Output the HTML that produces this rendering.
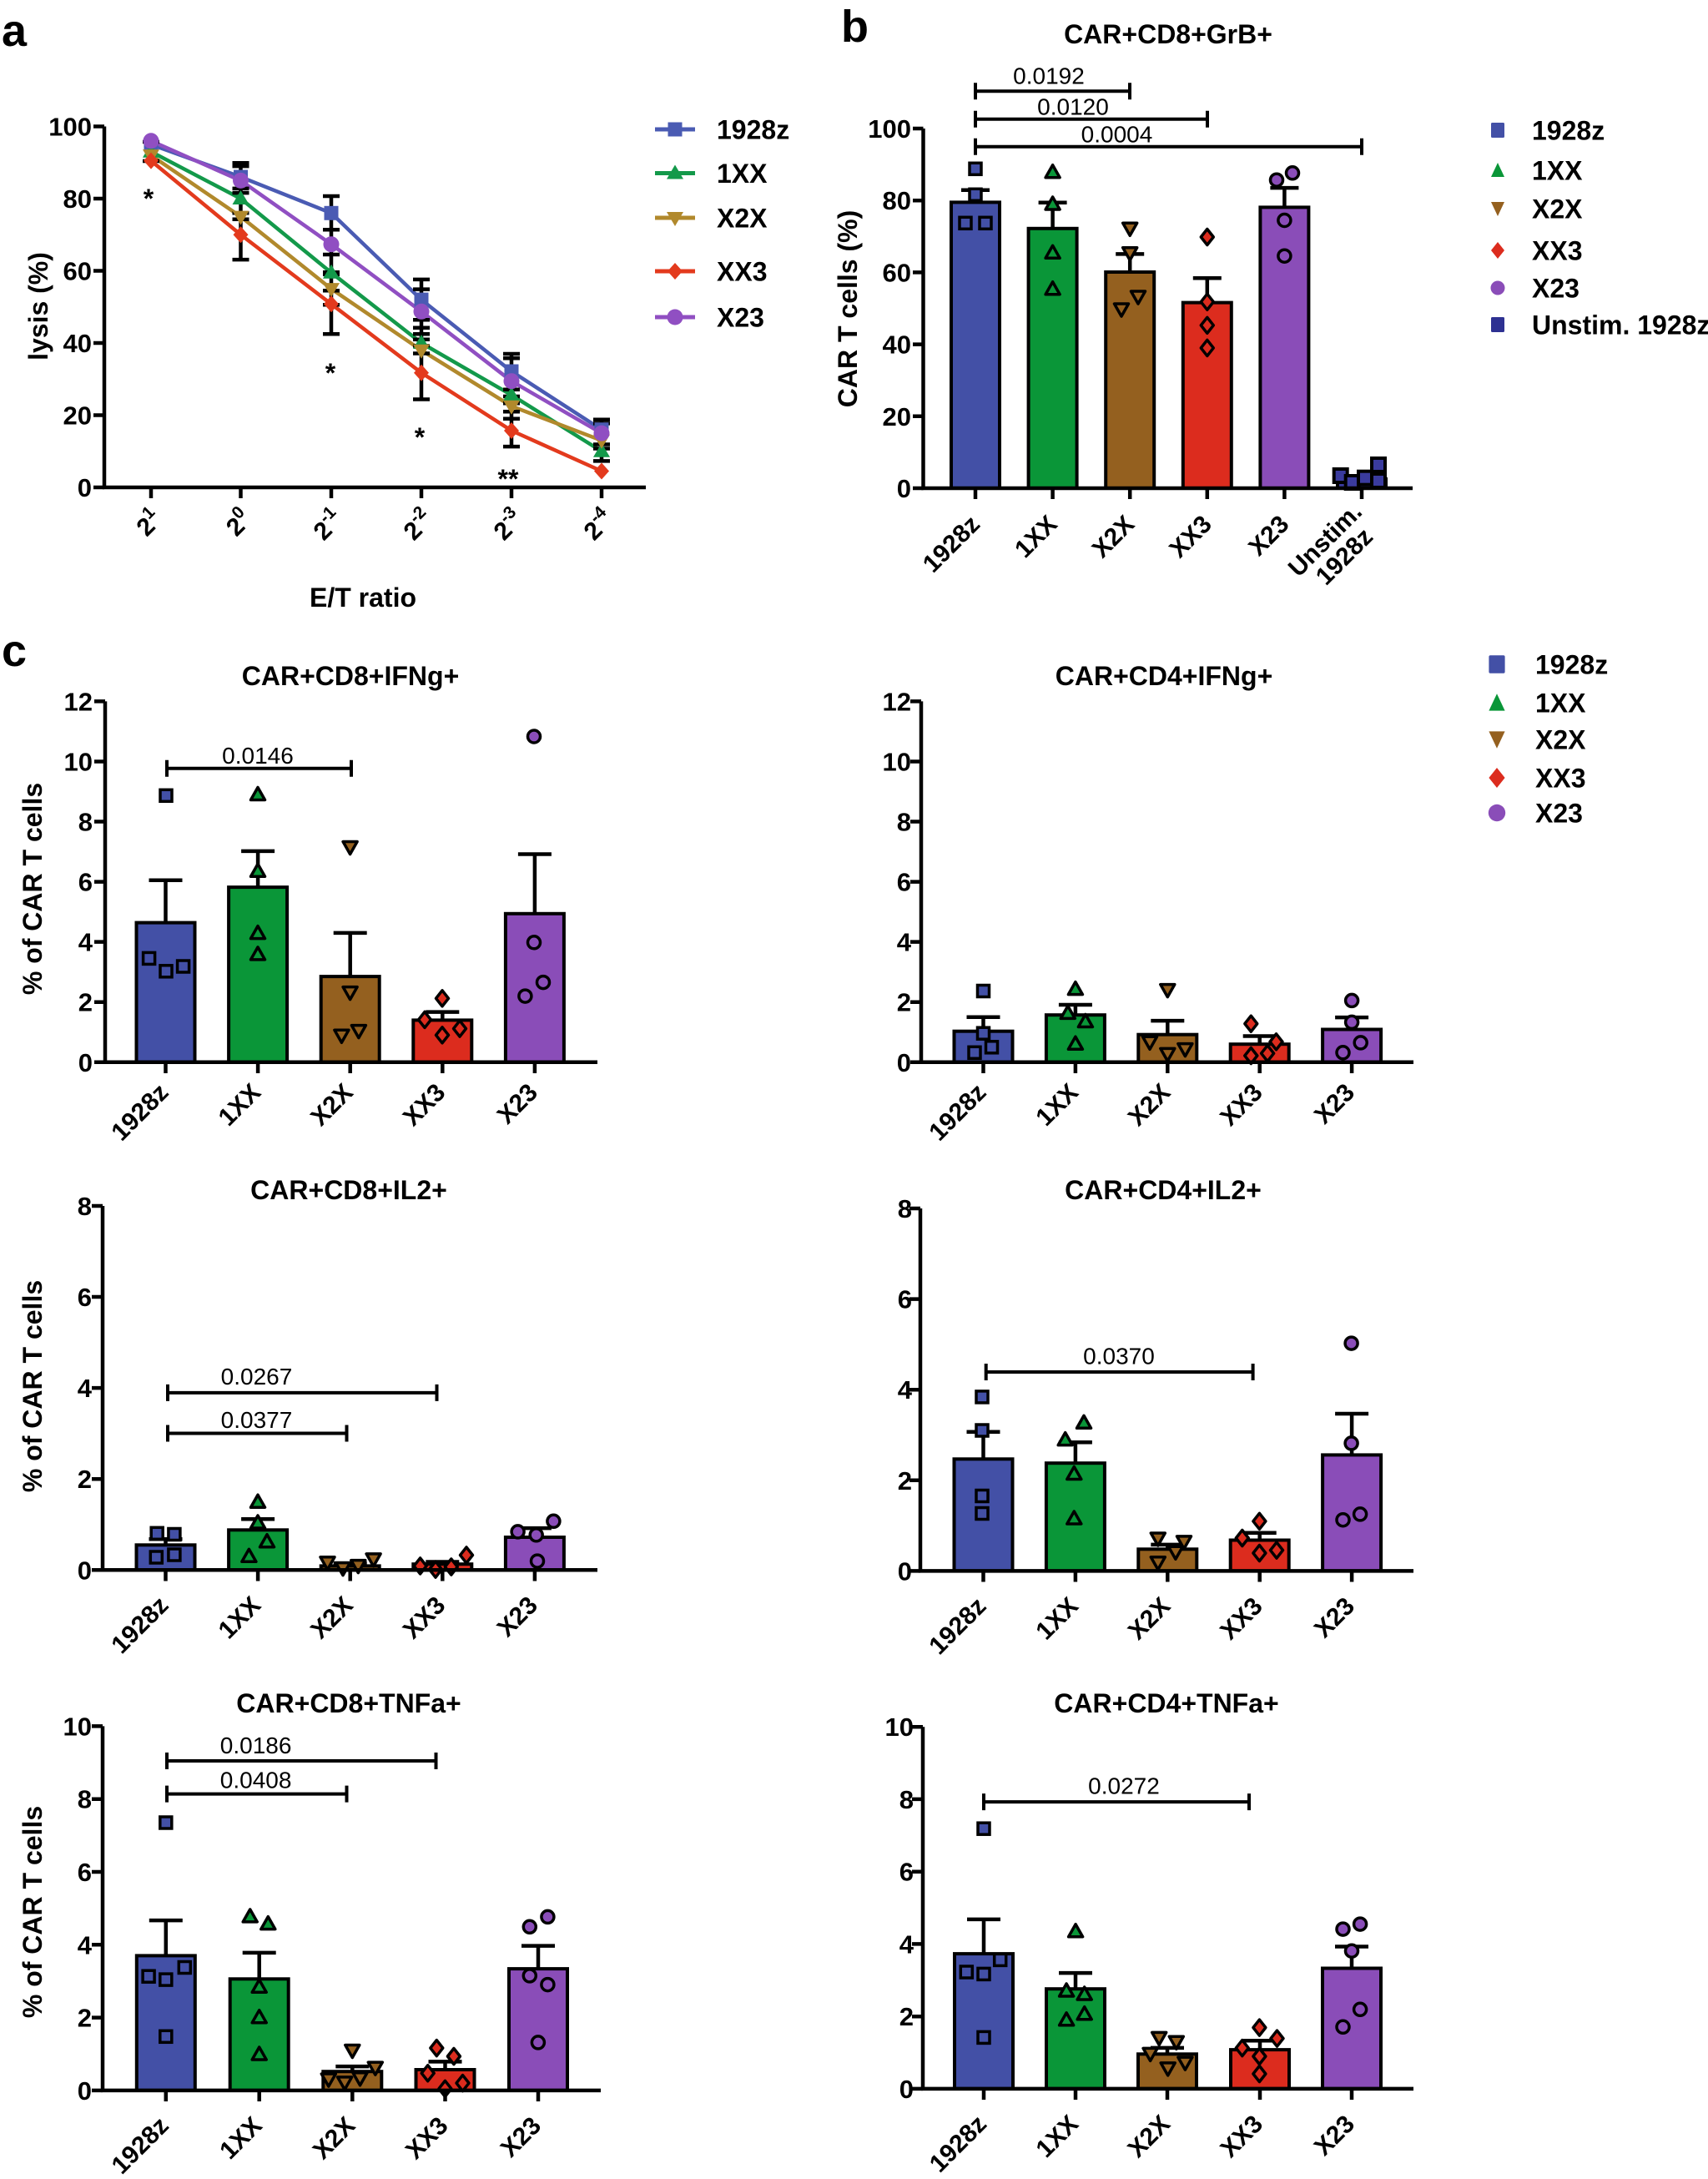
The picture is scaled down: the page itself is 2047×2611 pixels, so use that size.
<!DOCTYPE html>
<html><head><meta charset="utf-8">
<style>
html,body{margin:0;padding:0;background:#fff}
svg{display:block}
text{font-family:"Liberation Sans",Arial,sans-serif;font-weight:bold;fill:#000}
.tk{font-size:31px}
.xl{font-size:30px}
.ttl{font-size:32px}
.pv,.pv text{font-size:28px;font-weight:normal}
.lg{font-size:32px}
.pl{font-size:54px}
.ax{fill:none;stroke:#000;stroke-width:4.5}
.br{fill:none;stroke:#000;stroke-width:4}
.eb{fill:none;stroke:#000;stroke-width:4.5}
.bar{stroke:#000;stroke-width:4}
</style></head><body>
<svg width="2047" height="2611" viewBox="0 0 2047 2611" xmlns="http://www.w3.org/2000/svg">
<defs>
<rect id="pS" x="-7" y="-7" width="14" height="14" stroke="#000" stroke-width="3.5"/>
<path id="pT" d="M0,-9 L8.5,6 L-8.5,6 Z" stroke="#000" stroke-width="3.5" stroke-linejoin="round"/>
<path id="pV" d="M-8.5,-6 L8.5,-6 L0,9 Z" stroke="#000" stroke-width="3.5" stroke-linejoin="round"/>
<path id="pD" d="M0,-9.5 L7.5,0 L0,9.5 L-7.5,0 Z" stroke="#000" stroke-width="3.5" stroke-linejoin="round"/>
<circle id="pC" r="7.5" stroke="#000" stroke-width="3.5"/>
<rect id="uS" x="-8" y="-8" width="16" height="16" stroke="#000" stroke-width="4"/>
<rect id="aS" x="-8.5" y="-8.5" width="17" height="17"/>
<path id="aT" d="M0,-10 L10,7 L-10,7 Z"/>
<path id="aV" d="M-10,-7 L10,-7 L0,10 Z"/>
<path id="aD" d="M0,-10 L9,0 L0,10 L-9,0 Z"/>
<circle id="aC" r="9.5"/>
<rect id="lS" x="-8" y="-9" width="16" height="18" rx="1.5"/>
<path id="lT" d="M0,-9 L8,8 L-8,8 Z"/>
<path id="lV" d="M-8,-8 L8,-8 L0,9 Z"/>
<path id="lD" d="M0,-10 L8,0 L0,10 L-8,0 Z"/>
<circle id="lC" r="8.5"/>
</defs>

<!-- ============ PANEL A ============ -->
<text class="pl" x="2" y="55">a</text>
<path class="ax" d="M125,151.5 V584 H774"/>
<path class="ax" d="M112,584H125M112,497.5H125M112,411H125M112,324.5H125M112,238H125M112,151.5H125M181,584V597M288.5,584V597M397,584V597M505,584V597M613,584V597M721,584V597"/>
<g class="tk" text-anchor="end">
<text x="110" y="595">0</text><text x="110" y="508.5">20</text><text x="110" y="422">40</text>
<text x="110" y="335.5">60</text><text x="110" y="249">80</text><text x="110" y="162.5">100</text>
</g>
<g class="xl" text-anchor="end">
<text transform="translate(196,624) rotate(-45)">2<tspan font-size="21" dy="-13">1</tspan></text>
<text transform="translate(303.5,624) rotate(-45)">2<tspan font-size="21" dy="-13">0</tspan></text>
<text transform="translate(413,624) rotate(-45)">2<tspan font-size="21" dy="-13">-1</tspan></text>
<text transform="translate(521,624) rotate(-45)">2<tspan font-size="21" dy="-13">-2</tspan></text>
<text transform="translate(629,624) rotate(-45)">2<tspan font-size="21" dy="-13">-3</tspan></text>
<text transform="translate(737,624) rotate(-45)">2<tspan font-size="21" dy="-13">-4</tspan></text>
</g>
<text class="ttl" transform="translate(57,367) rotate(-90)" text-anchor="middle">lysis (%)</text>
<text class="ttl" x="435" y="727" text-anchor="middle">E/T ratio</text>
<g fill="none" stroke-width="4.5" stroke-linejoin="round">
<polyline stroke="#4a5bb3" points="181,173.1 288.5,212.05 397,255.3 505,359.1 613,445 721,514.8"/>
<polyline stroke="#13994a" points="181,181.8 288.5,238 397,326.7 505,411 613,473.3 721,540.75"/>
<polyline stroke="#b1892c" points="181,186.1 288.5,259.6 397,346.1 505,419.7 613,486.7 721,527.8"/>
<polyline stroke="#e33a1d" points="181,192.6 288.5,281.25 397,364.3 505,446.7 613,516 721,564.5"/>
<polyline stroke="#904fc2" points="181,168.8 288.5,216.4 397,292.7 505,373.3 613,456.7 721,519.1"/>
</g>
<path class="eb" d="M181,193V170M171,193H191M171,170H191
M288.5,195.2V311.1M278.5,195.2H298.5M278.5,199.1H298.5M278.5,225.9H298.5M278.5,231.1H298.5M278.5,255.3H298.5M278.5,262.7H298.5M278.5,311.1H298.5
M397,235V400.2M387,235H407M387,275.2H407M387,305H407M387,326.2H407M387,328.8H407M387,348.3H407M387,365.2H407M387,400.2H407
M505,334.9V478.5M495,334.9H515M495,346.6H515M495,383.3H515M495,392.8H515M495,400.2H515M495,406.7H515M495,414.5H515M495,423.5H515M495,478.5H515
M613,424V535.1M603,424H623M603,429.2H623M603,466.8H623M603,475H623M603,483.2H623M603,493.2H623M603,501.8H623M603,535.1H623
M721,502.7V552.4M711,502.7H731M711,507.4H731M711,532.5H731M711,537.5H731M711,552.4H731"/>
<g fill="#4a5bb3"><use href="#aS" x="181" y="173.1"/><use href="#aS" x="288.5" y="212.05"/><use href="#aS" x="397" y="255.3"/><use href="#aS" x="505" y="359.1"/><use href="#aS" x="613" y="445"/><use href="#aS" x="721" y="514.8"/></g>
<g fill="#13994a"><use href="#aT" x="181" y="181.8"/><use href="#aT" x="288.5" y="238"/><use href="#aT" x="397" y="326.7"/><use href="#aT" x="505" y="411"/><use href="#aT" x="613" y="473.3"/><use href="#aT" x="721" y="540.75"/></g>
<g fill="#b1892c"><use href="#aV" x="181" y="186.1"/><use href="#aV" x="288.5" y="259.6"/><use href="#aV" x="397" y="346.1"/><use href="#aV" x="505" y="419.7"/><use href="#aV" x="613" y="486.7"/><use href="#aV" x="721" y="527.8"/></g>
<g fill="#e33a1d"><use href="#aD" x="181" y="192.6"/><use href="#aD" x="288.5" y="281.25"/><use href="#aD" x="397" y="364.3"/><use href="#aD" x="505" y="446.7"/><use href="#aD" x="613" y="516"/><use href="#aD" x="721" y="564.5"/></g>
<g fill="#904fc2"><use href="#aC" x="181" y="168.8"/><use href="#aC" x="288.5" y="216.4"/><use href="#aC" x="397" y="292.7"/><use href="#aC" x="505" y="373.3"/><use href="#aC" x="613" y="456.7"/><use href="#aC" x="721" y="519.1"/></g>
<g text-anchor="middle">
<text x="178" y="249" style="font-size:32px">*</text>
<text x="396" y="458" style="font-size:32px">*</text>
<text x="503" y="535" style="font-size:32px">*</text>
<text x="609" y="585" style="font-size:32px">**</text>
</g>
<!-- legend a -->
<g stroke-width="5">
<line x1="785" y1="155" x2="833" y2="155" stroke="#4a5bb3"/>
<line x1="785" y1="207.5" x2="833" y2="207.5" stroke="#13994a"/>
<line x1="785" y1="261" x2="833" y2="261" stroke="#b1892c"/>
<line x1="785" y1="325" x2="833" y2="325" stroke="#e33a1d"/>
<line x1="785" y1="380" x2="833" y2="380" stroke="#904fc2"/>
</g>
<use href="#aS" x="809" y="155" fill="#4a5bb3"/>
<use href="#aT" x="809" y="207.5" fill="#13994a"/>
<use href="#aV" x="809" y="261" fill="#b1892c"/>
<use href="#aD" x="809" y="325" fill="#e33a1d"/>
<use href="#aC" x="809" y="380" fill="#904fc2"/>
<g class="lg">
<text x="859" y="166.5">1928z</text><text x="859" y="219">1XX</text><text x="859" y="272.5">X2X</text>
<text x="859" y="336.5">XX3</text><text x="859" y="391.5">X23</text>
</g>

<!-- ============ PANEL B ============ -->
<text class="pl" x="1008" y="50">b</text>
<text class="ttl" x="1400" y="52" text-anchor="middle">CAR+CD8+GrB+</text>
<rect class="bar" x="1140" y="242.4" width="58" height="342.6" fill="#4350a6"/>
<rect class="bar" x="1232.6" y="273.8" width="58" height="311.2" fill="#0a9638"/>
<rect class="bar" x="1325.2" y="326" width="58" height="259" fill="#94601f"/>
<rect class="bar" x="1417.8" y="362.6" width="58" height="222.4" fill="#dc2c1e"/>
<rect class="bar" x="1510.4" y="248.4" width="58" height="336.6" fill="#8a4db8"/>
<rect class="bar" x="1603" y="574" width="58" height="11" fill="#3a3b9e"/>
<path class="eb" d="M1169,242.4V227.7M1152,227.7H1186M1261.6,273.8V242.8M1244.6,242.8H1278.6M1354.2,326V304.4M1337.2,304.4H1371.2M1446.8,362.6V333.3M1429.8,333.3H1463.8M1539.4,248.4V225.1M1522.4,225.1H1556.4"/>
<g fill="#4350a6"><use href="#pS" x="1169" y="202.3"/><use href="#pS" x="1157" y="267.3"/><use href="#pS" x="1181" y="267.3"/><use href="#pS" x="1169" y="233.3"/></g>
<g fill="#0a9638"><use href="#pT" x="1261.6" y="206.7"/><use href="#pT" x="1261.6" y="245"/><use href="#pT" x="1261.6" y="303.3"/><use href="#pT" x="1261.6" y="346.7"/></g>
<g fill="#94601f"><use href="#pV" x="1354.2" y="273.3"/><use href="#pV" x="1354.2" y="302.7"/><use href="#pV" x="1344" y="370"/><use href="#pV" x="1364" y="355"/></g>
<g fill="#dc2c1e"><use href="#pD" x="1446.8" y="284"/><use href="#pD" x="1446.8" y="361.7"/><use href="#pD" x="1446.8" y="389.8"/><use href="#pD" x="1446.8" y="416.9"/></g>
<g fill="#8a4db8"><use href="#pC" x="1530" y="215.7"/><use href="#pC" x="1549" y="207.3"/><use href="#pC" x="1539.4" y="264"/><use href="#pC" x="1539.4" y="306.7"/></g>
<g fill="#3a3b9e"><use href="#uS" x="1606.7" y="570"/><use href="#uS" x="1620.7" y="578"/><use href="#uS" x="1636" y="572.7"/><use href="#uS" x="1652" y="557"/><use href="#uS" x="1652" y="576"/></g>
<path class="ax" d="M1106.5,154 V585 H1693"/>
<path class="ax" d="M1094,585H1106.5M1094,498.8H1106.5M1094,412.6H1106.5M1094,326.4H1106.5M1094,240.2H1106.5M1094,154H1106.5M1169,585V598M1261.6,585V598M1354.2,585V598M1446.8,585V598M1539.4,585V598M1632,585V598"/>
<g class="tk" text-anchor="end">
<text x="1092" y="596">0</text><text x="1092" y="509.8">20</text><text x="1092" y="423.6">40</text>
<text x="1092" y="337.4">60</text><text x="1092" y="251.2">80</text><text x="1092" y="165">100</text>
</g>
<g class="xl" text-anchor="end">
<text transform="translate(1176,630) rotate(-45)">1928z</text>
<text transform="translate(1268.6,630) rotate(-45)">1XX</text>
<text transform="translate(1361.2,630) rotate(-45)">X2X</text>
<text transform="translate(1453.8,630) rotate(-45)">XX3</text>
<text transform="translate(1546.4,630) rotate(-45)">X23</text>
<text transform="translate(1634,615) rotate(-45)">Unstim.</text>
<text transform="translate(1647,645) rotate(-45)">1928z</text>
</g>
<text class="ttl" transform="translate(1027,370) rotate(-90)" text-anchor="middle">CAR T cells (%)</text>
<path class="br" d="M1169,109.3H1354M1169,99.3V119.3M1354,99.3V119.3M1169,142.7H1447M1169,132.7V152.7M1447,132.7V152.7M1169,175.7H1632M1169,165.7V185.7M1632,165.7V185.7"/>
<g class="pv" text-anchor="middle">
<text x="1257" y="100.7">0.0192</text><text x="1286" y="137.3">0.0120</text><text x="1338.5" y="170.7">0.0004</text>
</g>
<use href="#lS" x="1795" y="156" fill="#4350a6"/>
<use href="#lT" x="1795" y="204" fill="#0a9638"/>
<use href="#lV" x="1795" y="250" fill="#94601f"/>
<use href="#lD" x="1795" y="300" fill="#dc2c1e"/>
<use href="#lC" x="1795" y="345" fill="#8a4db8"/>
<use href="#lS" x="1795" y="389" fill="#2e3192"/>
<g class="lg">
<text x="1836" y="167.5">1928z</text><text x="1836" y="215.5">1XX</text><text x="1836" y="261.5">X2X</text>
<text x="1836" y="311.5">XX3</text><text x="1836" y="356.5">X23</text><text x="1836" y="400.5">Unstim. 1928z</text>
</g>

<!-- ============ PANEL C ============ -->
<text class="pl" x="2" y="798">c</text>

<!-- C1: CD8 IFNg -->
<text class="ttl" x="420" y="821" text-anchor="middle">CAR+CD8+IFNg+</text>
<rect class="bar" x="163.5" y="1105.6" width="70" height="167.2" fill="#4350a6"/>
<rect class="bar" x="274.1" y="1063.1" width="70" height="209.7" fill="#0a9638"/>
<rect class="bar" x="384.7" y="1170.1" width="70" height="102.7" fill="#94601f"/>
<rect class="bar" x="495.3" y="1222.4" width="70" height="50.4" fill="#dc2c1e"/>
<rect class="bar" x="605.9" y="1094.8" width="70" height="178" fill="#8a4db8"/>
<path class="eb" d="M198.5,1105.6V1054.8M178.5,1054.8H218.5M309.1,1063.1V1019.9M289.1,1019.9H329.1M419.7,1170.1V1117.9M399.7,1117.9H439.7M530.3,1222.4V1212.6M510.3,1212.6H550.3M640.9,1094.8V1023.5M620.9,1023.5H660.9"/>
<g fill="#4350a6"><use href="#pS" x="199" y="953.3"/><use href="#pS" x="178.6" y="1148.4"/><use href="#pS" x="199" y="1163.8"/><use href="#pS" x="219.6" y="1158"/></g>
<g fill="#0a9638"><use href="#pT" x="309" y="952.5"/><use href="#pT" x="309" y="1044.3"/><use href="#pT" x="309" y="1118.6"/><use href="#pT" x="309" y="1143.9"/></g>
<g fill="#94601f"><use href="#pV" x="419.6" y="1014.5"/><use href="#pV" x="419.6" y="1188.6"/><use href="#pV" x="409.4" y="1240.3"/><use href="#pV" x="429.9" y="1234.6"/></g>
<g fill="#dc2c1e"><use href="#pD" x="530" y="1196.3"/><use href="#pD" x="509" y="1221.9"/><use href="#pD" x="530" y="1240.3"/><use href="#pD" x="551" y="1232.6"/></g>
<g fill="#8a4db8"><use href="#pC" x="640" y="882.5"/><use href="#pC" x="640" y="1129.3"/><use href="#pC" x="651" y="1177.1"/><use href="#pC" x="629.4" y="1193.6"/></g>
<path class="ax" d="M126,840.4 V1272.8 H716"/>
<path class="ax" d="M113,1272.8H126M113,1200.7H126M113,1128.6H126M113,1056.6H126M113,984.5H126M113,912.5H126M113,840.4H126M198.5,1272.8V1286M309.1,1272.8V1286M419.7,1272.8V1286M530.3,1272.8V1286M640.9,1272.8V1286"/>
<g class="tk" text-anchor="end">
<text x="111" y="1283.8">0</text><text x="111" y="1211.7">2</text><text x="111" y="1139.6">4</text><text x="111" y="1067.6">6</text>
<text x="111" y="995.5">8</text><text x="111" y="923.5">10</text><text x="111" y="851.4">12</text>
</g>
<g class="xl" text-anchor="end">
<text transform="translate(203.5,1310.8) rotate(-45)">1928z</text>
<text transform="translate(314.1,1310.8) rotate(-45)">1XX</text>
<text transform="translate(424.7,1310.8) rotate(-45)">X2X</text>
<text transform="translate(535.3,1310.8) rotate(-45)">XX3</text>
<text transform="translate(645.9,1310.8) rotate(-45)">X23</text>
</g>
<text class="ttl" transform="translate(50,1065) rotate(-90)" text-anchor="middle">% of CAR T cells</text>
<path class="br" d="M200,920.7H421M200,910.7V930.7M421,910.7V930.7"/>
<text class="pv" x="309" y="915" text-anchor="middle">0.0146</text>

<!-- C2: CD4 IFNg -->
<text class="ttl" x="1395" y="821" text-anchor="middle">CAR+CD4+IFNg+</text>
<rect class="bar" x="1143.5" y="1235.7" width="70" height="37.1" fill="#4350a6"/>
<rect class="bar" x="1253.9" y="1216.2" width="70" height="56.6" fill="#0a9638"/>
<rect class="bar" x="1364.3" y="1239.7" width="70" height="33.1" fill="#94601f"/>
<rect class="bar" x="1474.7" y="1251.2" width="70" height="21.6" fill="#dc2c1e"/>
<rect class="bar" x="1585.1" y="1233.5" width="70" height="39.3" fill="#8a4db8"/>
<path class="eb" d="M1178.5,1235.7V1218.8M1158.5,1218.8H1198.5M1288.9,1216.2V1204M1268.9,1204H1308.9M1399.3,1239.7V1223.1M1379.3,1223.1H1419.3M1509.7,1251.2V1241.5M1489.7,1241.5H1529.7M1620.1,1233.5V1219.1M1600.1,1219.1H1640.1"/>
<g fill="#4350a6"><use href="#pS" x="1178.5" y="1187.5"/><use href="#pS" x="1178.5" y="1238.2"/><use href="#pS" x="1188.5" y="1254.8"/><use href="#pS" x="1168" y="1261.3"/></g>
<g fill="#0a9638"><use href="#pT" x="1288.9" y="1185.6"/><use href="#pT" x="1279.8" y="1214.4"/><use href="#pT" x="1300.9" y="1224.5"/><use href="#pT" x="1288.9" y="1251.2"/></g>
<g fill="#94601f"><use href="#pV" x="1399.3" y="1185.6"/><use href="#pV" x="1378" y="1248.3"/><use href="#pV" x="1399.3" y="1262.4"/><use href="#pV" x="1420.4" y="1256.6"/></g>
<g fill="#dc2c1e"><use href="#pD" x="1499.3" y="1226.7"/><use href="#pD" x="1529.5" y="1248.3"/><use href="#pD" x="1499.3" y="1265"/><use href="#pD" x="1519.1" y="1262.2"/></g>
<g fill="#8a4db8"><use href="#pC" x="1620.1" y="1198.9"/><use href="#pC" x="1620.1" y="1224.9"/><use href="#pC" x="1630.7" y="1249.4"/><use href="#pC" x="1609.5" y="1261.3"/></g>
<path class="ax" d="M1104,840.4 V1272.8 H1694"/>
<path class="ax" d="M1091,1272.8H1104M1091,1200.7H1104M1091,1128.6H1104M1091,1056.6H1104M1091,984.5H1104M1091,912.5H1104M1091,840.4H1104M1178.5,1272.8V1286M1288.9,1272.8V1286M1399.3,1272.8V1286M1509.7,1272.8V1286M1620.1,1272.8V1286"/>
<g class="tk" text-anchor="end">
<text x="1092" y="1283.8">0</text><text x="1092" y="1211.7">2</text><text x="1092" y="1139.6">4</text><text x="1092" y="1067.6">6</text>
<text x="1092" y="995.5">8</text><text x="1092" y="923.5">10</text><text x="1092" y="851.4">12</text>
</g>
<g class="xl" text-anchor="end">
<text transform="translate(1183.5,1310.8) rotate(-45)">1928z</text>
<text transform="translate(1293.9,1310.8) rotate(-45)">1XX</text>
<text transform="translate(1404.3,1310.8) rotate(-45)">X2X</text>
<text transform="translate(1514.7,1310.8) rotate(-45)">XX3</text>
<text transform="translate(1625.1,1310.8) rotate(-45)">X23</text>
</g>
<!-- legend c -->
<use href="#lS" transform="translate(1794,796) scale(1.2)" fill="#4350a6"/>
<use href="#lT" transform="translate(1794,842) scale(1.2)" fill="#0a9638"/>
<use href="#lV" transform="translate(1794,886) scale(1.2)" fill="#94601f"/>
<use href="#lD" transform="translate(1794,932) scale(1.2)" fill="#dc2c1e"/>
<use href="#lC" transform="translate(1794,974) scale(1.2)" fill="#8a4db8"/>
<g class="lg">
<text x="1840" y="807.5">1928z</text><text x="1840" y="853.5">1XX</text><text x="1840" y="897.5">X2X</text>
<text x="1840" y="943.5">XX3</text><text x="1840" y="985.5">X23</text>
</g>

<!-- C3: CD8 IL2 -->
<text class="ttl" x="418" y="1437" text-anchor="middle">CAR+CD8+IL2+</text>
<rect class="bar" x="163.5" y="1851.3" width="70" height="30" fill="#4350a6"/>
<rect class="bar" x="274.1" y="1833.3" width="70" height="48" fill="#0a9638"/>
<rect class="bar" x="384.7" y="1876.4" width="70" height="4.9" fill="#94601f"/>
<rect class="bar" x="495.3" y="1874.2" width="70" height="7.1" fill="#dc2c1e"/>
<rect class="bar" x="605.9" y="1842" width="70" height="39.3" fill="#8a4db8"/>
<path class="eb" d="M198.5,1851.3V1844.2M178.5,1844.2H218.5M309.1,1833.3V1820.2M289.1,1820.2H329.1M419.7,1876.4V1873.1M399.7,1873.1H439.7M530.3,1874.2V1871.5M510.3,1871.5H550.3M640.9,1842V1831.1M620.9,1831.1H660.9"/>
<g fill="#4350a6"><use href="#pS" x="188.2" y="1837.3"/><use href="#pS" x="208.9" y="1838.5"/><use href="#pS" x="187.3" y="1866"/><use href="#pS" x="208.9" y="1863"/></g>
<g fill="#0a9638"><use href="#pT" x="309" y="1800.2"/><use href="#pT" x="309" y="1825"/><use href="#pT" x="320" y="1847.7"/><use href="#pT" x="298.4" y="1865.3"/></g>
<g fill="#94601f"><use href="#pV" x="392.5" y="1871.8"/><use href="#pV" x="411" y="1878.6"/><use href="#pV" x="429.3" y="1875.6"/><use href="#pV" x="447.6" y="1867.9"/></g>
<g fill="#dc2c1e"><use href="#pD" x="503.6" y="1876.4"/><use href="#pD" x="522" y="1880.6"/><use href="#pD" x="540.8" y="1877.5"/><use href="#pD" x="559" y="1863.4"/></g>
<g fill="#8a4db8"><use href="#pC" x="620.6" y="1835.4"/><use href="#pC" x="642.7" y="1839.3"/><use href="#pC" x="663.4" y="1822.8"/><use href="#pC" x="644" y="1870.6"/></g>
<path class="ax" d="M123,1445 V1881.3 H716"/>
<path class="ax" d="M110,1881.3H123M110,1772.2H123M110,1663.1H123M110,1554H123M110,1445H123M198.5,1881.3V1894.5M309.1,1881.3V1894.5M419.7,1881.3V1894.5M530.3,1881.3V1894.5M640.9,1881.3V1894.5"/>
<g class="tk" text-anchor="end">
<text x="110" y="1892.3">0</text><text x="110" y="1783.2">2</text><text x="110" y="1674.1">4</text><text x="110" y="1565">6</text><text x="110" y="1456">8</text>
</g>
<g class="xl" text-anchor="end">
<text transform="translate(203.5,1925.3) rotate(-45)">1928z</text>
<text transform="translate(314.1,1925.3) rotate(-45)">1XX</text>
<text transform="translate(424.7,1925.3) rotate(-45)">X2X</text>
<text transform="translate(535.3,1925.3) rotate(-45)">XX3</text>
<text transform="translate(645.9,1925.3) rotate(-45)">X23</text>
</g>
<text class="ttl" transform="translate(50,1661) rotate(-90)" text-anchor="middle">% of CAR T cells</text>
<path class="br" d="M201,1668.9H523.5M201,1658.9V1678.9M523.5,1658.9V1678.9M201,1717.5H415.5M201,1707.5V1727.5M415.5,1707.5V1727.5"/>
<g class="pv" text-anchor="middle"><text x="307.5" y="1659">0.0267</text><text x="307.5" y="1711">0.0377</text></g>

<!-- C4: CD4 IL2 -->
<text class="ttl" x="1394" y="1437" text-anchor="middle">CAR+CD4+IL2+</text>
<rect class="bar" x="1143.5" y="1748.3" width="70" height="134.1" fill="#4350a6"/>
<rect class="bar" x="1253.9" y="1753.2" width="70" height="129.2" fill="#0a9638"/>
<rect class="bar" x="1364.3" y="1856.3" width="70" height="26.1" fill="#94601f"/>
<rect class="bar" x="1474.7" y="1845.5" width="70" height="36.9" fill="#dc2c1e"/>
<rect class="bar" x="1585.1" y="1743.4" width="70" height="139" fill="#8a4db8"/>
<path class="eb" d="M1178.5,1748.3V1715.7M1158.5,1715.7H1198.5M1288.9,1753.2V1728.2M1268.9,1728.2H1308.9M1399.3,1856.3V1850.9M1379.3,1850.9H1419.3M1509.7,1845.5V1836.8M1489.7,1836.8H1529.7M1620.1,1743.4V1694M1600.1,1694H1640.1"/>
<g fill="#4350a6"><use href="#pS" x="1177" y="1673.9"/><use href="#pS" x="1177" y="1714"/><use href="#pS" x="1177" y="1792.5"/><use href="#pS" x="1177" y="1813.5"/></g>
<g fill="#0a9638"><use href="#pT" x="1299" y="1705.3"/><use href="#pT" x="1276.7" y="1725.6"/><use href="#pT" x="1287.3" y="1766.5"/><use href="#pT" x="1287.3" y="1820"/></g>
<g fill="#94601f"><use href="#pV" x="1387.8" y="1843"/><use href="#pV" x="1419" y="1846.9"/><use href="#pV" x="1408.9" y="1859.2"/><use href="#pV" x="1387.8" y="1871.8"/></g>
<g fill="#dc2c1e"><use href="#pD" x="1509.4" y="1822.8"/><use href="#pD" x="1488.8" y="1843"/><use href="#pD" x="1509.4" y="1861"/><use href="#pD" x="1530" y="1857.6"/></g>
<g fill="#8a4db8"><use href="#pC" x="1619.6" y="1609.6"/><use href="#pC" x="1619.6" y="1729.4"/><use href="#pC" x="1609.5" y="1821.2"/><use href="#pC" x="1630.1" y="1814.4"/></g>
<path class="ax" d="M1103,1448 V1882.4 H1694"/>
<path class="ax" d="M1090,1882.4H1103M1090,1773.8H1103M1090,1665.2H1103M1090,1556.6H1103M1090,1448H1103M1178.5,1882.4V1895.5M1288.9,1882.4V1895.5M1399.3,1882.4V1895.5M1509.7,1882.4V1895.5M1620.1,1882.4V1895.5"/>
<g class="tk" text-anchor="end">
<text x="1093" y="1893.4">0</text><text x="1093" y="1784.8">2</text><text x="1093" y="1676.2">4</text><text x="1093" y="1567.6">6</text><text x="1093" y="1459">8</text>
</g>
<g class="xl" text-anchor="end">
<text transform="translate(1183.5,1926.4) rotate(-45)">1928z</text>
<text transform="translate(1293.9,1926.4) rotate(-45)">1XX</text>
<text transform="translate(1404.3,1926.4) rotate(-45)">X2X</text>
<text transform="translate(1514.7,1926.4) rotate(-45)">XX3</text>
<text transform="translate(1625.1,1926.4) rotate(-45)">X23</text>
</g>
<path class="br" d="M1181.7,1644H1501.6M1181.7,1634V1654M1501.6,1634V1654"/>
<text class="pv" x="1341" y="1634.5" text-anchor="middle">0.0370</text>

<!-- C5: CD8 TNFa -->
<text class="ttl" x="418" y="2052" text-anchor="middle">CAR+CD8+TNFa+</text>
<rect class="bar" x="163.8" y="2343.4" width="70" height="161.5" fill="#4350a6"/>
<rect class="bar" x="275.7" y="2371.3" width="70" height="133.6" fill="#0a9638"/>
<rect class="bar" x="387.3" y="2482.2" width="70" height="22.7" fill="#94601f"/>
<rect class="bar" x="498.5" y="2480" width="70" height="24.9" fill="#dc2c1e"/>
<rect class="bar" x="610" y="2359.1" width="70" height="145.8" fill="#8a4db8"/>
<path class="eb" d="M198.8,2343.4V2301.1M178.8,2301.1H218.8M310.7,2371.3V2339.9M290.7,2339.9H330.7M422.3,2482.2V2476.1M402.3,2476.1H442.3M533.5,2480V2470.4M513.5,2470.4H553.5M645,2359.1V2331.6M625,2331.6H665"/>
<g fill="#4350a6"><use href="#pS" x="198.8" y="2184"/><use href="#pS" x="221.3" y="2357.5"/><use href="#pS" x="178.1" y="2368.2"/><use href="#pS" x="198.8" y="2372.1"/><use href="#pS" x="198.8" y="2440.3"/></g>
<g fill="#0a9638"><use href="#pT" x="299.7" y="2296.9"/><use href="#pT" x="321.3" y="2305.6"/><use href="#pT" x="310.7" y="2381.2"/><use href="#pT" x="310.7" y="2417.7"/><use href="#pT" x="310.7" y="2462"/></g>
<g fill="#94601f"><use href="#pV" x="422.3" y="2456.5"/><use href="#pV" x="449.8" y="2477.1"/><use href="#pV" x="393.8" y="2491"/><use href="#pV" x="413.1" y="2494.9"/><use href="#pV" x="431.5" y="2489.8"/></g>
<g fill="#dc2c1e"><use href="#pD" x="523.3" y="2454.1"/><use href="#pD" x="543.9" y="2464"/><use href="#pD" x="512.7" y="2484.2"/><use href="#pD" x="554.5" y="2496.1"/><use href="#pD" x="533.4" y="2502.8"/></g>
<g fill="#8a4db8"><use href="#pC" x="634.8" y="2308.8"/><use href="#pC" x="656.4" y="2296.9"/><use href="#pC" x="634.8" y="2367.4"/><use href="#pC" x="656.4" y="2378.1"/><use href="#pC" x="644.9" y="2447.4"/></g>
<path class="ax" d="M123,2068.4 V2504.9 H720"/>
<path class="ax" d="M110,2504.9H123M110,2417.6H123M110,2330.3H123M110,2243H123M110,2155.7H123M110,2068.4H123M198.8,2504.9V2518M310.7,2504.9V2518M422.3,2504.9V2518M533.5,2504.9V2518M645,2504.9V2518"/>
<g class="tk" text-anchor="end">
<text x="110" y="2515.9">0</text><text x="110" y="2428.6">2</text><text x="110" y="2341.3">4</text><text x="110" y="2254">6</text>
<text x="110" y="2166.7">8</text><text x="110" y="2079.4">10</text>
</g>
<g class="xl" text-anchor="end">
<text transform="translate(203.8,2548.9) rotate(-45)">1928z</text>
<text transform="translate(315.7,2548.9) rotate(-45)">1XX</text>
<text transform="translate(427.3,2548.9) rotate(-45)">X2X</text>
<text transform="translate(538.5,2548.9) rotate(-45)">XX3</text>
<text transform="translate(650,2548.9) rotate(-45)">X23</text>
</g>
<text class="ttl" transform="translate(50,2291) rotate(-90)" text-anchor="middle">% of CAR T cells</text>
<path class="br" d="M200,2110H522.5M200,2100V2120M522.5,2100V2120M200,2149.6H415.5M200,2139.6V2159.6M415.5,2139.6V2159.6"/>
<g class="pv" text-anchor="middle"><text x="306.6" y="2101">0.0186</text><text x="306.6" y="2142.5">0.0408</text></g>

<!-- C6: CD4 TNFa -->
<text class="ttl" x="1398" y="2052" text-anchor="middle">CAR+CD4+TNFa+</text>
<rect class="bar" x="1144" y="2341.1" width="70" height="161.8" fill="#4350a6"/>
<rect class="bar" x="1254" y="2383.2" width="70" height="119.7" fill="#0a9638"/>
<rect class="bar" x="1364" y="2461.3" width="70" height="41.6" fill="#94601f"/>
<rect class="bar" x="1475" y="2456.1" width="70" height="46.8" fill="#dc2c1e"/>
<rect class="bar" x="1585" y="2358.5" width="70" height="144.4" fill="#8a4db8"/>
<path class="eb" d="M1179,2341.1V2299.9M1159,2299.9H1199M1289,2383.2V2364.1M1269,2364.1H1309M1399,2461.3V2453.9M1379,2453.9H1419M1510,2456.1V2445.2M1490,2445.2H1530M1620,2358.5V2332.5M1600,2332.5H1640"/>
<g fill="#4350a6"><use href="#pS" x="1179" y="2191.2"/><use href="#pS" x="1198.7" y="2348.4"/><use href="#pS" x="1158.3" y="2363"/><use href="#pS" x="1179" y="2365.4"/><use href="#pS" x="1179" y="2441.4"/></g>
<g fill="#0a9638"><use href="#pT" x="1289.1" y="2314.7"/><use href="#pT" x="1278.1" y="2386"/><use href="#pT" x="1299.7" y="2390"/><use href="#pT" x="1278.1" y="2420.8"/><use href="#pT" x="1299.7" y="2413.7"/></g>
<g fill="#94601f"><use href="#pV" x="1389.2" y="2441.4"/><use href="#pV" x="1409.8" y="2446.2"/><use href="#pV" x="1378.6" y="2460.4"/><use href="#pV" x="1399.7" y="2477.9"/><use href="#pV" x="1420.4" y="2471.1"/></g>
<g fill="#dc2c1e"><use href="#pD" x="1509.4" y="2429.6"/><use href="#pD" x="1530.5" y="2442.6"/><use href="#pD" x="1488.8" y="2454.1"/><use href="#pD" x="1509.4" y="2464"/><use href="#pD" x="1509.4" y="2485"/></g>
<g fill="#8a4db8"><use href="#pC" x="1609.5" y="2311.6"/><use href="#pC" x="1630.1" y="2305.6"/><use href="#pC" x="1620" y="2337.7"/><use href="#pC" x="1630.1" y="2407.8"/><use href="#pC" x="1609.5" y="2428.8"/></g>
<path class="ax" d="M1106,2069.2 V2502.9 H1694"/>
<path class="ax" d="M1093,2502.9H1106M1093,2416.2H1106M1093,2329.4H1106M1093,2242.7H1106M1093,2155.9H1106M1093,2069.2H1106M1179,2502.9V2516M1289,2502.9V2516M1399,2502.9V2516M1510,2502.9V2516M1620,2502.9V2516"/>
<g class="tk" text-anchor="end">
<text x="1095" y="2513.9">0</text><text x="1095" y="2427.2">2</text><text x="1095" y="2340.4">4</text><text x="1095" y="2253.7">6</text>
<text x="1095" y="2166.9">8</text><text x="1095" y="2080.2">10</text>
</g>
<g class="xl" text-anchor="end">
<text transform="translate(1184,2546.9) rotate(-45)">1928z</text>
<text transform="translate(1294,2546.9) rotate(-45)">1XX</text>
<text transform="translate(1404,2546.9) rotate(-45)">X2X</text>
<text transform="translate(1515,2546.9) rotate(-45)">XX3</text>
<text transform="translate(1625,2546.9) rotate(-45)">X23</text>
</g>
<path class="br" d="M1179,2159.1H1497M1179,2149.1V2169.1M1497,2149.1V2169.1"/>
<text class="pv" x="1347" y="2149.6" text-anchor="middle">0.0272</text>
</svg>
</body></html>
